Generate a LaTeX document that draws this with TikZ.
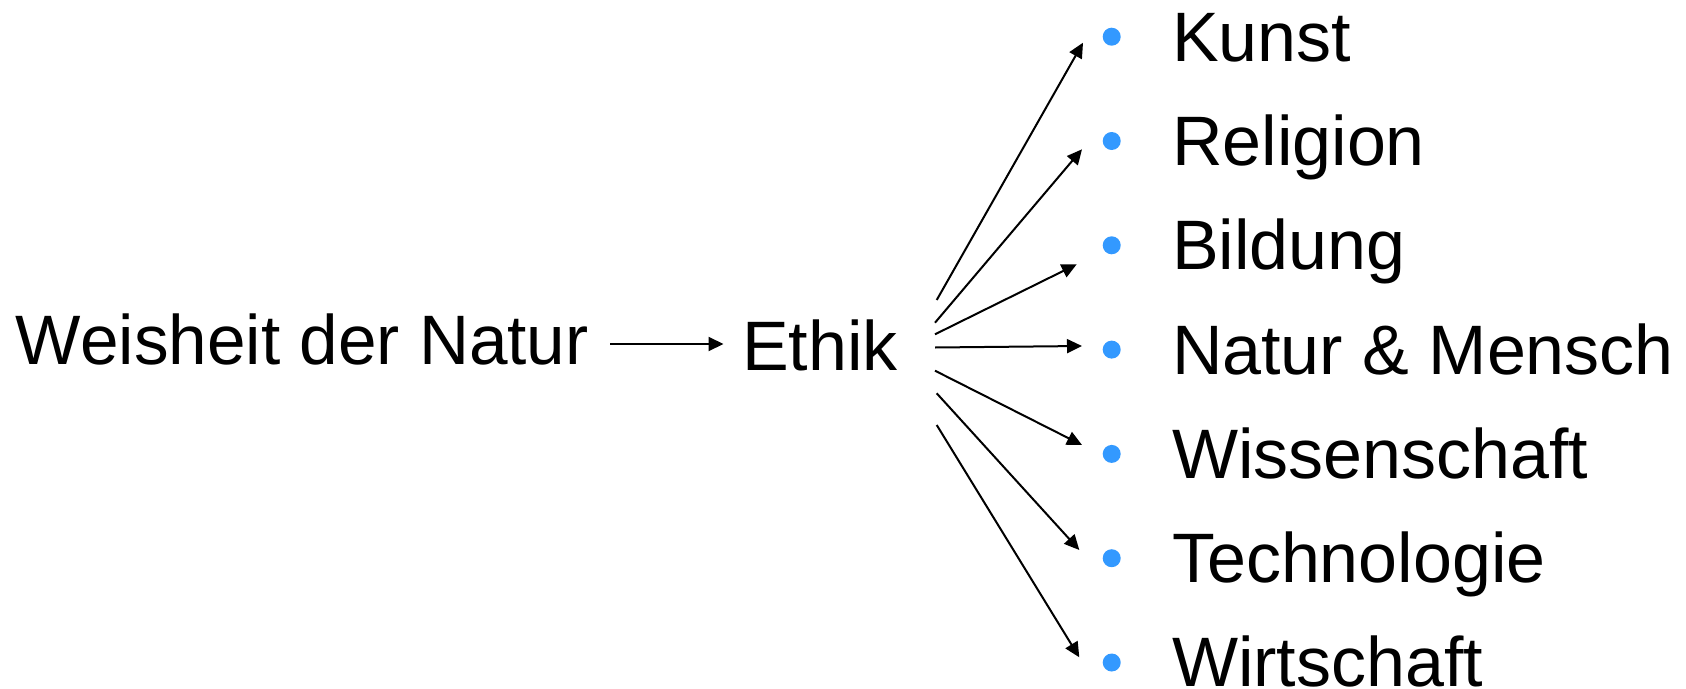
\documentclass[tikz,border=0pt]{standalone}
\usepackage{fontspec}
\setmainfont{Liberation Sans}
\usetikzlibrary{arrows.meta}
\definecolor{bulletblue}{RGB}{51,153,255}
\tikzset{
  lbl/.style={anchor=base west, inner sep=0pt, outer sep=0pt, font=\fontsize{70}{84}\selectfont},
  conn/.style={line width=2pt, -{Triangle[length=15pt,width=14pt]}},
  dotbullet/.style={circle, fill=bulletblue, minimum size=18pt, inner sep=0pt}
}
\begin{document}
\begin{tikzpicture}[x=1pt,y=-1pt]
\useasboundingbox (0,0) rectangle (1686,688);
\node[lbl, xscale=0.99] (weis) at (16,364) {Weisheit der Natur};
\node[lbl] (ethik) at (742,370.5) {Ethik};
\coordinate (m1) at (610,344);
\coordinate (m2) at (723.5,344);
\draw[conn] (m1) -- (m2);
% items
\foreach \i/\t in {0/Kunst,1/Religion,2/Bildung,3/Natur \& Mensch,4/Wissenschaft,5/Technologie,6/Wirtschaft}{
  \node[dotbullet] (b\i) at (1111.7,{36.7+104.3*\i}) {};
  \node[lbl] (it\i) at (1172,{61.7+104.1*\i}) {\t};
}
% arrow ends
\coordinate (s0) at (936.7,300);
\coordinate (t0) at (1083,42.7);
\coordinate (s1) at (935,322.7);
\coordinate (t1) at (1082,149.3);
\coordinate (s2) at (935,334.3);
\coordinate (t2) at (1076.7,264.3);
\coordinate (s3) at (935,347.5);
\coordinate (t3) at (1082,346);
\coordinate (s4) at (935,370.7);
\coordinate (t4) at (1082,445);
\coordinate (s5) at (936.7,393.3);
\coordinate (t5) at (1079.3,550);
\coordinate (s6) at (936.7,425);
\coordinate (t6) at (1079.3,657.3);
\foreach \i in {0,...,6}{
  \draw[conn] (s\i) -- (t\i);
}
\end{tikzpicture}
\end{document}
